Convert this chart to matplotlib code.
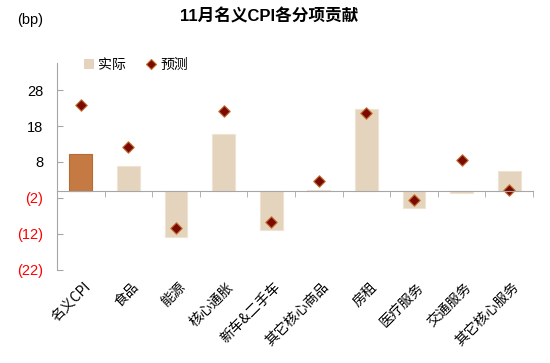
import matplotlib
matplotlib.use("Agg")
import matplotlib.pyplot as plt
from matplotlib.patches import Patch
from matplotlib.lines import Line2D
import numpy as np

categories = ["名义CPI", "食品", "能源", "核心通胀", "新车&二手车", "其它核心商品",
              "房租", "医疗服务", "交通服务", "其它核心服务"]
actual = [10.2, 6.9, -12.8, 15.8, -10.8, 0.3, 22.8, -4.8, -0.6, 5.5]
forecast = [23.9, 12.2, -10.3, 22.2, -8.6, 2.8, 21.7, -2.5, 8.5, 0.1]
yticks = [28, 18, 8, -2, -12, -22]

plt.rcParams['font.family'] = ['Liberation Sans', 'Noto Sans CJK SC', 'DejaVu Sans']
cjk = ['Noto Sans CJK SC', 'DejaVu Sans']

fig = plt.figure(figsize=(5.5, 3.63), dpi=100)
ax = fig.add_axes([57/550, 1-270/363, (533-57)/550, (270-63)/363])

x = np.arange(len(categories))
light = '#E4D4BD'
colors = ['#C47A42'] + [light] * (len(categories) - 1)
edges = ['#B86A32'] + ['#EFE3D2'] * (len(categories) - 1)
ax.bar(x, actual, width=0.48, color=colors, edgecolor=edges, linewidth=0.8, zorder=2)
ax.scatter(x, forecast, marker='D', s=34, facecolor='#7A0A00', edgecolor='#C4702E',
           linewidth=0.8, zorder=3)

ax.set_xlim(-0.5, len(categories) - 0.5)
ax.set_ylim(-22, 35.5)

for s in ['top', 'right']:
    ax.spines[s].set_visible(False)
ax.spines['left'].set_color('#A6A6A6')
ax.spines['bottom'].set_color('#A6A6A6')
ax.spines['bottom'].set_position(('data', 0))
ax.spines['bottom'].set_zorder(4)

ax.set_yticks(yticks)
ax.set_yticklabels([f"({abs(v)})" if v < 0 else str(v) for v in yticks])
for lab, v in zip(ax.get_yticklabels(), yticks):
    lab.set_color('#FF0000' if v < 0 else 'black')
    lab.set_fontsize(10.5)
ax.tick_params(axis='y', direction='in', length=4, color='#A6A6A6', pad=10)

# x ticks: minor at boundaries on zero line, labels at bottom of plot
ax.set_xticks(np.arange(len(categories) + 1) - 0.5, minor=True)
ax.tick_params(axis='x', which='minor', direction='out', length=4, color='#A6A6A6')
ax.set_xticks(x)
ax.set_xticklabels([])
ax.tick_params(axis='x', which='major', length=0)
for xi, c in zip(x, categories):
    ax.annotate(c, xy=(xi, -22), xycoords='data', xytext=(2, -7),
                textcoords='offset points', rotation=45, ha='right', va='top',
                rotation_mode='anchor', fontsize=10, family=cjk)

handles = [Patch(facecolor=light, edgecolor='none'),
           Line2D([], [], marker='D', linestyle='none', markersize=5,
                  markerfacecolor='#7A0A00', markeredgecolor='#C4702E', markeredgewidth=0.8)]
ax.legend(handles, ['实际', '预测'], loc='upper left', bbox_to_anchor=(0.03, 1.085), ncol=2,
          frameon=False, prop={'family': cjk, 'size': 10}, handlelength=0.7,
          handleheight=0.7, handletextpad=0.3, columnspacing=1.5)

fig.text(0.49, 0.955, "11月名义CPI各分项贡献", ha='center', va='center',
         fontsize=12, fontweight='bold', family=['Liberation Sans', 'Noto Sans CJK SC'])
fig.text(0.055, 0.945, "(bp)", ha='center', va='center', fontsize=10.5)

fig.savefig("out.png", dpi=100)
